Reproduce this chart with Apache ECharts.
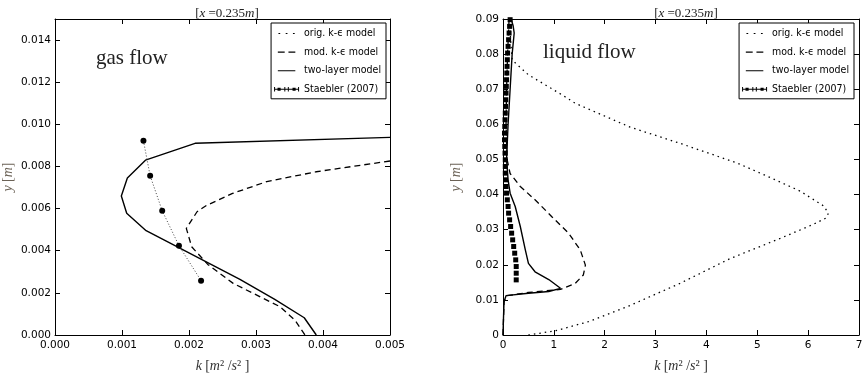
<!DOCTYPE html>
<html>
<head>
<meta charset="utf-8">
<script src="https://cdn.jsdelivr.net/npm/echarts@6/dist/echarts.min.js"></script>
<style>
  html, body { margin: 0; padding: 0; background: #fff; }
  #chart { width: 864px; height: 375px; }
</style>
</head>
<body>
<div id="chart"></div>
<script>
// ---- gas flow profile at x = 0.235 m ----
const gasOrigK = [];
const gasOrigY = [];
const gasModK = [0.0050, 0.0039, 0.00316, 0.00265, 0.00226, 0.00212, 0.00196, 0.00204, 0.00228, 0.00266, 0.00336, 0.00358, 0.00373];
const gasModY = [0.00826, 0.00775, 0.00728, 0.00672, 0.00615, 0.00585, 0.00506, 0.00419, 0.00335, 0.00245, 0.00134, 0.00071, 0.0];
const gasTwoLayerK = [0.0050, 0.00209, 0.00135, 0.00108, 0.00099, 0.00107, 0.00136, 0.00187, 0.00276, 0.00328, 0.00372, 0.0039];
const gasTwoLayerY = [0.00938, 0.0091, 0.0083, 0.00745, 0.0066, 0.00578, 0.00495, 0.00411, 0.00264, 0.00169, 0.00082, 0.0];
const gasStaeblerK = [0.00132, 0.00142, 0.0016, 0.00185, 0.00218];
const gasStaeblerY = [0.00922, 0.00756, 0.0059, 0.00424, 0.00258];

// ---- liquid flow profile at x = 0.235 m ----
const liqOrigK = [0.5, 1.03, 1.68, 2.45, 3.48, 4.47, 5.45, 6.1, 6.35, 6.4, 6.3, 5.84, 5.2, 4.6, 3.5, 2.5, 1.42, 1.16, 0.5, 0.18, 0.15, 0.13];
const liqOrigY = [0.0, 0.0012, 0.0038, 0.0081, 0.0147, 0.0218, 0.0275, 0.0315, 0.0333, 0.0347, 0.0368, 0.041, 0.0452, 0.049, 0.0545, 0.0592, 0.066, 0.0684, 0.0741, 0.0783, 0.084, 0.09];
const liqModK = [0.0, 0.02, 0.08, 0.5, 1.13, 1.42, 1.58, 1.62, 1.52, 1.29, 0.96, 0.63, 0.34, 0.14, 0.08, 0.06, 0.07, 0.09, 0.12];
const liqModY = [0.0, 0.0095, 0.0112, 0.0121, 0.013, 0.0147, 0.0171, 0.0199, 0.0242, 0.029, 0.0337, 0.0385, 0.0423, 0.046, 0.05, 0.06, 0.07, 0.08, 0.09];
const liqTwoLayerK = [0.0, 0.01, 0.02, 0.06, 0.5, 0.9, 1.13, 0.9, 0.63, 0.5, 0.44, 0.34, 0.24, 0.14, 0.1, 0.07, 0.1, 0.14, 0.18, 0.22, 0.2, 0.16];
const liqTwoLayerY = [0.0, 0.005, 0.0095, 0.0112, 0.0119, 0.0124, 0.0133, 0.0158, 0.018, 0.0204, 0.0242, 0.0309, 0.0366, 0.0404, 0.0442, 0.05, 0.06, 0.07, 0.08, 0.086, 0.088, 0.09];
const liqStaeblerK = [0.26, 0.26, 0.26, 0.25, 0.23, 0.21, 0.19, 0.17, 0.15, 0.13, 0.11, 0.10, 0.085, 0.07, 0.06, 0.05, 0.045, 0.045, 0.045, 0.04, 0.035, 0.03, 0.03, 0.035, 0.04, 0.045, 0.05, 0.055, 0.06, 0.065, 0.07, 0.075, 0.08, 0.085, 0.09, 0.10, 0.11, 0.12, 0.13, 0.14];
const liqStaeblerY = [0.0157, 0.0176, 0.0195, 0.0214, 0.0233, 0.0252, 0.0271, 0.029, 0.0309, 0.0328, 0.0347, 0.0366, 0.0385, 0.0404, 0.0423, 0.0442, 0.0461, 0.048, 0.0499, 0.0518, 0.0537, 0.0556, 0.0575, 0.0594, 0.0613, 0.0632, 0.0651, 0.067, 0.0689, 0.0708, 0.0727, 0.0746, 0.0765, 0.0784, 0.0803, 0.0822, 0.0841, 0.086, 0.0879, 0.0898];

// ---- axis tick labels ----
const gasKTicks = ['0.000', '0.001', '0.002', '0.003', '0.004', '0.005'];
const gasYTicks = ['0.000', '0.002', '0.004', '0.006', '0.008', '0.010', '0.012', '0.014'];
const liqKTicks = ['0', '1', '2', '3', '4', '5', '6', '7'];
const liqYTicks = ['0', '0.01', '0.02', '0.03', '0.04', '0.05', '0.06', '0.07', '0.08', '0.09'];

const NAMES = ['orig. k-ϵ model', 'mod. k-ϵ model', 'two-layer model', 'Staebler (2007)'];

const zip = (a, b) => a.map((v, i) => [v, b[i]]);

// map a tick value onto its label (blank when it is not one of the listed ticks)
function tickFormatter(labels, step) {
  return function (v) {
    const n = v / step;
    const r = Math.round(n);
    if (Math.abs(n - r) > 1e-6 || r < 0 || r >= labels.length) return '';
    return labels[r];
  };
}

const TICK_FONT = { fontFamily: 'DejaVu Sans', fontSize: 10.5, color: '#000' };
const SERIF = 'Liberation Serif';
const nameRich = {
  i: { fontFamily: SERIF, fontStyle: 'italic', fontWeight: 'normal', fontSize: 14, color: '#333' },
  n: { fontFamily: SERIF, fontWeight: 'normal', fontSize: 14, color: '#333' }
};
const yNameRich = {
  i: { fontFamily: SERIF, fontStyle: 'italic', fontWeight: 'normal', fontSize: 14, color: '#6b6256' },
  n: { fontFamily: SERIF, fontWeight: 'normal', fontSize: 14, color: '#6b6256' }
};

function frameAxis(extra) {
  return Object.assign({
    type: 'value',
    axisLine: { show: true, onZero: false, lineStyle: { color: '#000', width: 1 } },
    axisTick: { show: true, inside: true, length: 5, lineStyle: { color: '#000', width: 1 } },
    splitLine: { show: false },
    axisLabel: { show: false }
  }, extra);
}

function xBottom(gridIndex, max, step, labels) {
  return frameAxis({
    gridIndex, min: 0, max, interval: step, position: 'bottom',
    axisLabel: Object.assign({ show: true, margin: 5, formatter: tickFormatter(labels, step) }, TICK_FONT),
    name: '{i|k} {n|[}{i|m}{n|² /}{i|s}{n|² ]}',
    nameLocation: 'middle', nameGap: 24,
    nameTextStyle: { rich: nameRich }
  });
}
function xTop(gridIndex, max, step) {
  return frameAxis({ gridIndex, min: 0, max, interval: step, position: 'top' });
}
function yLeft(gridIndex, max, step, labels) {
  return frameAxis({
    gridIndex, min: 0, max, interval: step, position: 'left',
    axisLabel: Object.assign({ show: true, margin: 4, formatter: tickFormatter(labels, step) }, TICK_FONT),
    name: '{i|y} {n|[}{i|m}{n|]}',
    nameLocation: 'middle', nameGap: 40, nameRotate: 90,
    nameTextStyle: { rich: yNameRich }
  });
}
function yRight(gridIndex, max, step) {
  return frameAxis({ gridIndex, min: 0, max, interval: step, position: 'right' });
}

// legend glyphs drawn in a 40x10 box (the tiny corner specks pin the box size)
const BOX = 'M0,0h0.01v0.01h-0.01z M39.99,9.99h0.01v0.01h-0.01z ';
const ICON_DOTTED = 'path://' + BOX + 'M7,4.1h2.8v1.8h-2.8z M18.6,4.1h2.8v1.8h-2.8z M30.2,4.1h2.8v1.8h-2.8z';
const ICON_DASHED = 'path://' + BOX + 'M6,4.1h11v1.8h-11z M23,4.1h11v1.8h-11z';
const ICON_SOLID = 'path://' + BOX + 'M6,4.1h28v1.8h-28z';
// errorbar glyph: cap, dot, cap, cap, dot, cap along a thin line
const ICON_ERRORBAR = 'path://' + BOX + 'M0,1.5h1.6v7h-1.6z M0,4.3h40v1.4h-40z M16.4,1.5h1.6v7h-1.6z M22,1.5h1.6v7h-1.6z M38.4,1.5h1.6v7h-1.6z M5.5,2.5h5v5h-5z M29.5,2.5h5v5h-5z';

function legendFor(right) {
  return {
    orient: 'vertical', right, top: 23, align: 'left',
    itemWidth: 25, itemHeight: 10, itemGap: 7.6,
    padding: [5, 5, 4, 3],
    borderColor: '#000', borderWidth: 1, borderRadius: 0,
    backgroundColor: '#fff',
    selectedMode: false,
    textStyle: { fontFamily: 'DejaVu Sans Condensed, Liberation Sans, DejaVu Sans', fontSize: 10.5, color: '#000' },
    itemStyle: { color: '#000', borderWidth: 0 },
    lineStyle: { width: 0, opacity: 0 },
    data: [
      { name: NAMES[0], icon: ICON_DOTTED },
      { name: NAMES[1], icon: ICON_DASHED },
      { name: NAMES[2], icon: ICON_SOLID },
      { name: NAMES[3], icon: ICON_ERRORBAR }
    ]
  };
}

const origStyle = { color: '#000', width: 1.3, type: [1.5, 4] };
const modStyle = { color: '#000', width: 1.3, type: [6, 4] };
const twoStyle = { color: '#000', width: 1.4, type: 'solid' };

function curve(name, xi, yi, data, lineStyle) {
  return {
    type: 'line', name, xAxisIndex: xi, yAxisIndex: yi, data,
    showSymbol: false, symbol: 'none', smooth: false, silent: true,
    lineStyle, itemStyle: { color: '#000' }, animation: false, z: 3
  };
}

const titleText = '{n|[}{i|x}{n| =0.235}{i|m}{n|]}';
const titleRich = {
  i: { fontFamily: SERIF, fontStyle: 'italic', fontWeight: 'normal', fontSize: 13, color: '#222' },
  n: { fontFamily: SERIF, fontWeight: 'normal', fontSize: 13, color: '#222' }
};

const option = {
  animation: false,
  backgroundColor: '#fff',
  title: [
    { text: titleText, left: 222, top: 2, textAlign: 'center', textStyle: { fontWeight: 'normal', rich: titleRich } },
    { text: titleText, left: 681, top: 2, textAlign: 'center', textStyle: { fontWeight: 'normal', rich: titleRich } }
  ],
  grid: [
    { left: 55, top: 19, width: 335, height: 316, containLabel: false, outerBoundsMode: 'none' },
    { left: 503, top: 19, width: 356, height: 316, containLabel: false, outerBoundsMode: 'none' }
  ],
  xAxis: [
    xBottom(0, 0.005, 0.001, gasKTicks),
    xTop(0, 0.005, 0.001),
    xBottom(1, 7, 1, liqKTicks),
    xTop(1, 7, 1)
  ],
  yAxis: [
    yLeft(0, 0.015, 0.002, gasYTicks),
    yRight(0, 0.015, 0.002),
    yLeft(1, 0.09, 0.01, liqYTicks),
    yRight(1, 0.09, 0.01)
  ],
  legend: [legendFor(864 - 386), legendFor(10)],
  graphic: [
    { type: 'text', left: 96, top: 48, style: { text: 'gas flow', font: '21px "Liberation Serif"', fill: '#222' } },
    { type: 'text', left: 543, top: 42, style: { text: 'liquid flow', font: '21px "Liberation Serif"', fill: '#222' } }
  ],
  series: [
    curve(NAMES[0], 0, 0, zip(gasOrigK, gasOrigY), origStyle),
    curve(NAMES[1], 0, 0, zip(gasModK, gasModY), modStyle),
    curve(NAMES[2], 0, 0, zip(gasTwoLayerK, gasTwoLayerY), twoStyle),
    {
      type: 'line', name: NAMES[3], xAxisIndex: 0, yAxisIndex: 0,
      data: zip(gasStaeblerK, gasStaeblerY),
      symbol: 'circle', symbolSize: 6, showSymbol: true, silent: true,
      lineStyle: { color: '#444', width: 1, type: [1, 2] },
      itemStyle: { color: '#000' }, z: 4
    },
    curve(NAMES[0], 2, 2, zip(liqOrigK, liqOrigY), origStyle),
    curve(NAMES[1], 2, 2, zip(liqModK, liqModY), modStyle),
    curve(NAMES[2], 2, 2, zip(liqTwoLayerK, liqTwoLayerY), twoStyle),
    {
      type: 'line', name: NAMES[3], xAxisIndex: 2, yAxisIndex: 2,
      data: zip(liqStaeblerK, liqStaeblerY),
      symbol: 'rect', symbolSize: 5, showSymbol: true, silent: true,
      lineStyle: { width: 0, opacity: 0 },
      itemStyle: { color: '#000' }, z: 4
    }
  ]
};

const chart = echarts.init(document.getElementById('chart'), null, { renderer: 'canvas' });
chart.setOption(option);
</script>
</body>
</html>
